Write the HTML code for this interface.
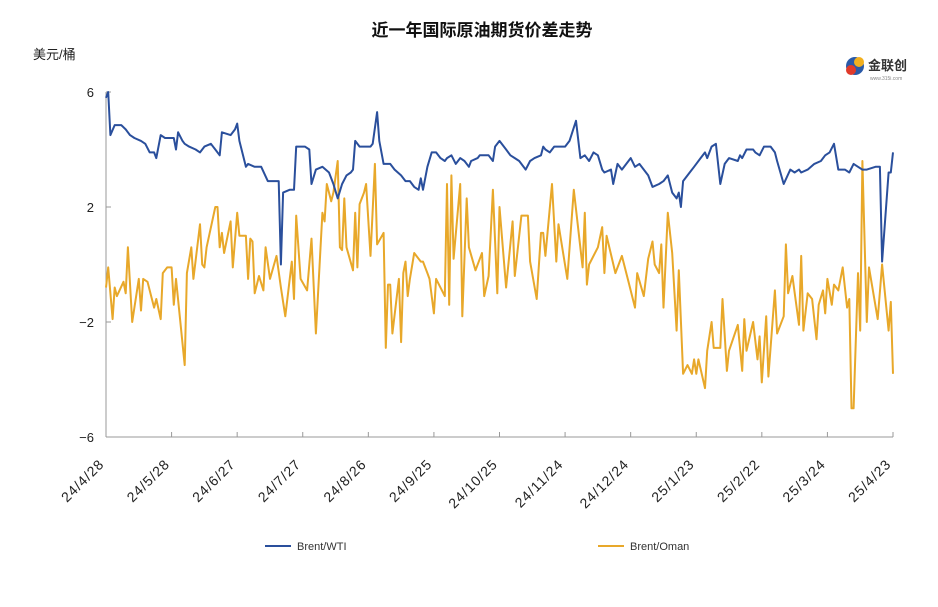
<!DOCTYPE html>
<html><head><meta charset="utf-8"><style>
body{margin:0;background:#fff;font-family:"Liberation Sans","Noto Sans CJK SC",sans-serif;}
svg text{font-family:"Liberation Sans","Noto Sans CJK SC",sans-serif;}
</style></head><body>
<svg id="chart" width="938" height="602" xmlns="http://www.w3.org/2000/svg">
<text x="482" y="36" text-anchor="middle" font-size="17" font-weight="bold" fill="#111">近一年国际原油期货价差走势</text>
<text x="33" y="59" font-size="13" fill="#222">美元/桶</text>
<g>
<circle cx="855" cy="66" r="9" fill="#2a5aa8"/><circle cx="851" cy="70" r="5" fill="#e03a2a"/><circle cx="859" cy="62" r="5" fill="#f2b01e"/>
<text x="868" y="70" font-size="13" font-weight="bold" fill="#333">金联创</text>
<text x="870" y="80" font-size="5" fill="#888">www.315i.com</text>
</g>
<g id="axes"></g><g id="series"></g>
<g>
<line x1="265" y1="546" x2="291" y2="546" stroke="#2a4f9c" stroke-width="2"/>
<text x="297" y="550" font-size="11" fill="#333">Brent/WTI</text>
<line x1="598" y1="546" x2="624" y2="546" stroke="#e8a82a" stroke-width="2"/>
<text x="630" y="550" font-size="11" fill="#333">Brent/Oman</text>
</g>
</svg>
<script>
const tickLabels=["24/4/28","24/5/28","24/6/27","24/7/27","24/8/26","24/9/25","24/10/25","24/11/24","24/12/24","25/1/23","25/2/22","25/3/24","25/4/23"];
const yTicks=[6,2,-2,-6];
const wtiDays=[0,1,2,4,7,9,11,13,16,18,20,22,23,25,27,29,31,32,33,35,36,38,41,43,45,48,50,52,53,57,59,60,61,64,65,68,71,74,77,79,80,81,84,86,87,89,91,93,94,96,99,102,104,106,108,110,112,113,114,116,118,121,122,124,125,127,130,132,135,137,139,141,143,144,145,147,149,151,153,155,156,158,160,162,164,166,167,170,171,173,175,177,178,180,183,185,187,189,192,194,196,199,200,201,203,205,208,210,212,215,217,219,221,223,225,227,228,231,232,234,236,238,240,242,244,247,248,250,253,255,257,259,261,262,263,264,267,269,272,274,275,277,279,281,283,285,289,290,291,293,296,297,299,301,304,306,307,310,313,315,317,318,321,324,327,329,331,333,335,338,340,342,344,346,348,352,354,355,358,359,360];
const wtiValues=[5.8,6.0,4.5,4.85,4.85,4.7,4.5,4.4,4.3,4.2,3.9,3.9,3.7,4.5,4.4,4.4,4.4,4.0,4.6,4.3,4.2,4.1,4.0,3.9,4.1,4.2,4.0,3.8,4.6,4.5,4.7,4.9,4.3,3.4,3.5,3.4,3.4,2.9,2.9,2.9,0.0,2.5,2.6,2.6,4.1,4.1,4.1,4.0,2.8,3.3,3.4,3.2,2.8,2.3,2.8,3.1,3.2,3.3,4.3,4.1,4.1,4.1,4.2,5.3,4.3,3.5,3.5,3.3,3.1,2.9,2.9,2.7,2.6,3.0,2.6,3.4,3.9,3.9,3.7,3.6,3.7,3.8,3.5,3.7,3.6,3.4,3.6,3.7,3.8,3.8,3.8,3.6,4.1,4.3,4.0,3.8,3.7,3.6,3.3,3.6,3.7,3.8,4.1,4.0,3.9,4.1,4.1,4.1,4.3,5.0,3.7,3.8,3.6,3.9,3.8,3.3,3.2,3.3,2.8,3.5,3.3,3.5,3.7,3.4,3.5,3.2,3.1,2.7,2.8,2.9,3.1,2.5,2.3,2.5,2.0,2.9,3.2,3.4,3.7,3.9,3.7,4.1,4.2,2.8,3.5,3.7,3.6,3.8,3.7,4.0,4.0,3.9,3.8,4.1,4.1,3.9,3.6,2.8,3.3,3.2,3.3,3.2,3.3,3.5,3.6,3.8,3.9,4.2,3.3,3.3,3.2,3.5,3.4,3.3,3.3,3.4,3.4,0.1,3.2,3.2,3.9];
const omanDays=[0,1,3,4,5,8,9,10,12,15,16,17,19,22,23,25,26,28,30,31,32,36,37,39,40,43,44,45,46,50,51,52,53,54,57,58,60,61,64,65,66,67,68,70,72,73,75,78,80,82,85,86,87,89,92,94,96,99,100,101,103,104,106,107,108,109,110,113,114,115,116,118,119,121,123,124,127,128,129,130,131,134,135,136,137,138,139,141,144,145,147,148,150,151,155,156,157,158,159,162,163,165,166,169,172,173,175,177,179,180,183,186,187,190,193,194,197,199,200,201,204,206,207,211,214,218,219,220,221,225,227,228,229,233,236,239,242,243,246,248,250,251,253,254,255,257,259,261,262,264,266,268,269,270,271,274,275,277,278,281,282,284,285,289,291,292,293,296,298,299,300,302,303,306,307,310,311,312,314,317,318,319,321,323,325,326,328,329,330,332,333,335,337,339,340,341,342,344,345,346,348,349,353,355,358,359,360];
const omanValues=[-0.8,-0.1,-1.9,-0.8,-1.1,-0.6,-1.0,0.6,-2.0,-0.5,-1.6,-0.5,-0.6,-1.5,-1.2,-1.9,-0.3,-0.1,-0.1,-1.4,-0.5,-3.5,-0.3,0.6,-0.5,1.4,0.0,-0.1,0.6,2.0,2.0,0.6,1.1,0.4,1.5,-0.1,1.8,1.0,1.0,-0.5,0.9,0.8,-1.0,-0.4,-0.9,0.6,-0.5,0.3,-0.8,-1.8,0.1,-1.2,1.7,-0.5,-0.9,0.9,-2.4,1.8,1.5,2.8,2.2,2.5,3.6,0.6,0.5,2.3,0.6,-0.2,1.8,-0.1,2.1,2.5,2.8,0.3,3.5,0.7,1.1,-2.9,-0.7,-0.7,-2.4,-0.5,-2.7,-0.3,0.1,-1.1,-0.5,0.4,0.1,0.1,-0.3,-0.5,-1.7,-0.5,-1.1,2.8,-1.4,3.1,0.2,2.8,-1.8,2.3,0.6,-0.2,0.4,-1.1,-0.4,2.6,-1.0,2.0,-0.8,1.5,-0.4,1.7,1.7,0.1,-1.2,1.1,1.1,0.3,2.8,0.1,1.4,-0.5,2.6,-0.1,1.8,-0.7,0.0,0.6,1.3,-0.3,1.0,-0.3,0.3,-0.6,-1.5,-0.3,-1.1,0.2,0.8,0.0,-0.3,0.7,-1.5,1.8,0.4,-2.3,-0.2,-3.8,-3.5,-3.8,-3.3,-3.8,-3.3,-4.3,-3.0,-2.0,-2.9,-2.9,-1.2,-3.7,-3.0,-2.1,-3.7,-1.9,-3.0,-2.0,-3.3,-2.5,-4.1,-1.8,-3.9,-0.9,-2.4,-1.8,0.7,-1.0,-0.4,-2.1,0.3,-2.3,-1.0,-1.2,-2.6,-1.4,-0.9,-1.7,-0.5,-1.4,-0.7,-0.9,-0.1,-1.5,-1.2,-5.0,-5.0,-0.3,-2.3,3.6,-2.0,-0.1,-1.9,0.0,-2.3,-1.3,-3.8];
const X0=106,X1=893,Y0=92,Y1=437;
function xs(d){return X0+(d/360)*(X1-X0);}
function ys(v){return Y0+(6-v)/12*(Y1-Y0);}
const NS="http://www.w3.org/2000/svg";
const axes=document.getElementById('axes');
function mk(tag,attrs,parent){const e=document.createElementNS(NS,tag);for(const k in attrs)e.setAttribute(k,attrs[k]);parent.appendChild(e);return e;}
let yl=mk('line',{x1:X0,y1:Y0,x2:X0,y2:Y1,stroke:'#999','stroke-width':1},axes);


let xl=mk('line',{x1:X0,y1:Y1,x2:X1,y2:Y1,stroke:'#999','stroke-width':1},axes);


yTicks.forEach(v=>{
  const t=mk('line',{x1:X0,y1:ys(v),x2:X0+5,y2:ys(v),stroke:'#999'},axes);
  
  
  const tx=mk('text',{x:X0-12,y:ys(v)+5,'text-anchor':'end','font-size':13,fill:'#222'},axes);
  tx.textContent=String(v).replace('-','\u2212');
  
  
});
tickLabels.forEach((lab,i)=>{
  const x=xs(i*30);
  const t=mk('line',{x1:x,y1:Y1,x2:x,y2:Y1-5,stroke:'#999'},axes);
  
  
  const ax=x-1, ay=Y1+28;
  const tx=mk('text',{x:ax,y:ay,'text-anchor':'end','font-size':14,'letter-spacing':'1',fill:'#222',transform:`rotate(-45 ${ax} ${ay})`},axes);
  tx.textContent=lab;
  
  
});
const ser=document.getElementById('series');
function line(days,vals,color,name){
  const p=mk('polyline',{points:days.map((d,i)=>xs(d).toFixed(1)+','+ys(vals[i]).toFixed(1)).join(' '),fill:'none',stroke:color,'stroke-width':2,'stroke-linejoin':'round'},ser);
  
  
}
line(omanDays,omanValues,'#e8a82a','brent-oman-line');
line(wtiDays,wtiValues,'#2a4f9c','brent-wti-line');
</script>
</body></html>
